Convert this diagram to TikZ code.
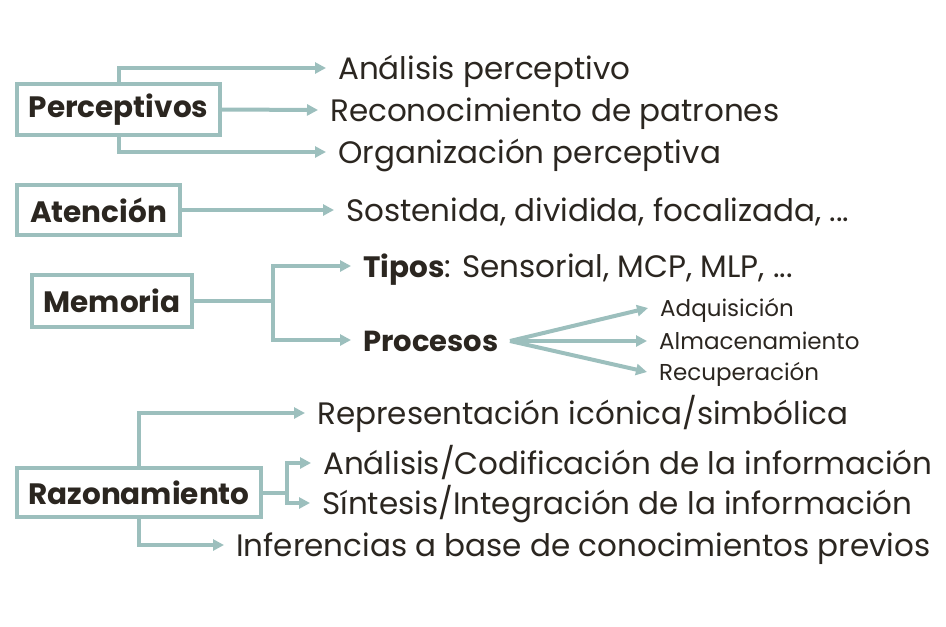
\documentclass[tikz,border=0pt]{standalone}
\usepackage{fontspec}
\setmainfont{Poppins}
\usetikzlibrary{arrows.meta}
\definecolor{lnc}{HTML}{9CBFBD}
\definecolor{txc}{HTML}{2B2620}
\tikzset{
  catbox/.style={draw=lnc, line width=4pt, inner sep=0pt, font=\fontsize{29.5}{31}\selectfont\bfseries, text=txc},
  item/.style={anchor=west, inner xsep=12pt, inner ysep=0pt, text height=22pt, text depth=0pt, font=\fontsize{31}{32}\selectfont, text=txc},
  smallitem/.style={anchor=west, inner xsep=12pt, inner ysep=0pt, text height=16pt, text depth=0pt, font=\fontsize{23}{24}\selectfont, text=txc},
  conn/.style={draw=lnc, line width=4pt, -{Triangle[length=11pt,width=11pt]}},
  plain/.style={draw=lnc, line width=4pt},
}
\begin{document}
\begin{tikzpicture}[x=1pt,y=-1pt]
\useasboundingbox (0,0) rectangle (946,627);
% category boxes
\node[catbox, minimum width=203pt, minimum height=51pt] (perc) at (118.5,109.5) {Perceptivos};
\node[catbox, minimum width=163pt, minimum height=50pt] (aten) at (98.5,210) {Atención};
\node[catbox, minimum width=160pt, minimum height=52pt] (mem) at (112,301) {Memoria};
\node[catbox, minimum width=244pt, minimum height=49pt] (raz) at (139,492.5) {Razonamiento};
% perceptivos items
\node[item] (ana) at (326,68) {Análisis perceptivo};
\node[item] (reco) at (318,110) {Reconocimiento de patrones};
\node[item] (org) at (326,152) {Organización perceptiva};
% atencion
\node[item] (sost) at (334,210) {Sostenida, dividida, focalizada, ...};
% memoria
\node[item] (tipos) at (351,266) {{\fontsize{29.5}{31}\selectfont\bfseries Tipos}: Sensorial, MCP, MLP, ...};
\node[item] (proc) at (351,340) {{\fontsize{29}{31}\selectfont\bfseries Procesos}};
\node[smallitem] (adq) at (648,308) {Adquisición};
\node[smallitem] (alm) at (647,341) {Almacenamiento};
\node[smallitem] (recu) at (647,372) {Recuperación};
% razonamiento
\node[item] (rep) at (305,413) {Representación icónica/simbólica};
\node[item] (anal) at (311,463) {Análisis/Codificación de la información};
\node[item] (sint) at (310,503) {Síntesis/Integración de la información};
\node[item] (inf) at (224,545) {Inferencias a base de conocimientos previos};
% connectors
\draw[conn] (perc.north) |- (ana.west);
\draw[conn] (perc.east) -- (reco.west);
\draw[conn] (perc.south) |- (org.west);
\draw[conn] (aten.east) -- (sost.west);
\draw[plain] (mem.east) -- (273,301) coordinate (mj);
\draw[conn] (mj) |- (tipos.west);
\draw[conn] (mj) |- (proc.west);
\coordinate (pj) at (510,341);
\draw[conn] (pj) -- (adq.west);
\draw[conn] (pj) -- (alm.west);
\draw[conn] (pj) -- (recu.west);
\draw[conn] (raz.north) |- (rep.west);
\draw[plain] (raz.east) -- (287,492.5) coordinate (rj);
\draw[conn] (rj) |- (anal.west);
\draw[conn] (rj) |- (sint.west);
\draw[conn] (raz.south) |- (inf.west);
\end{tikzpicture}
\end{document}
